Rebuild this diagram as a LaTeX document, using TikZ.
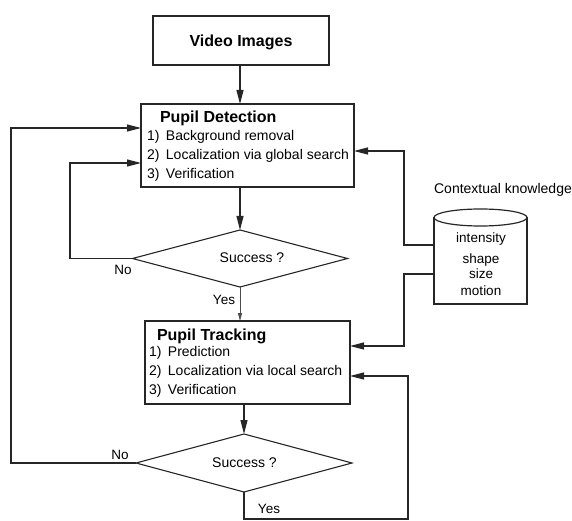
\documentclass[tikz,border=0pt]{standalone}
\usepackage{fontspec}
\setmainfont{Liberation Sans}
\usetikzlibrary{shapes.geometric,arrows.meta}
\begin{document}
\begin{tikzpicture}[x=1pt,y=-1pt,
  every node/.style={inner sep=0pt, outer sep=0pt},
  block/.style={draw=black!85, line width=1.2pt},
  decision/.style={diamond, draw=black!85, line width=1.1pt, inner sep=0pt},
  heading/.style={font=\fontsize{16}{19}\selectfont\bfseries, anchor=west},
  stepline/.style={font=\fontsize{14}{17}\selectfont, anchor=west, text height=10pt, text depth=3pt},
  tag/.style={font=\fontsize{13.5}{16}\selectfont},
  arr/.style={draw=black!85, line width=1.2pt, -{Triangle[length=14pt,width=7pt]}},
  thinarr/.style={draw=black!70, line width=0.8pt, -{Triangle[length=8pt,width=4pt]}},
]
\useasboundingbox (0,0) rectangle (572,521);

% --- input ---
\node[block, minimum width=176pt, minimum height=49pt] (vid) at (241,40.5) {};
\node[font=\fontsize{16}{19}\selectfont\bfseries] (vidtext) at (241,42) {Video Images};

% --- pupil detection ---
\node[block, minimum width=213pt, minimum height=83pt] (pd) at (247.5,145.5) {};
\node[heading] (pdtitle) at (160,118) {Pupil Detection};
\node[stepline] (pd1) at (147,137) {1)\hspace{6.5pt}Background removal};
\node[stepline] (pd2) at (147,156) {2)\hspace{6.5pt}Localization via global search};
\node[stepline] (pd3) at (147,175) {3)\hspace{6.5pt}Verification};

% --- first decision ---
\node[decision, minimum width=215pt, minimum height=57pt] (d1) at (240,258.5) {};
\node[stepline, anchor=center] (d1text) at (252,259) {Success ?};

% --- pupil tracking ---
\node[block, minimum width=205pt, minimum height=83pt] (pt) at (247.5,362.5) {};
\node[heading] (pttitle) at (157,336) {Pupil Tracking};
\node[stepline] (pt1) at (149,353) {1)\hspace{6.5pt}Prediction};
\node[stepline] (pt2) at (149,372) {2)\hspace{6.5pt}Localization via local search};
\node[stepline] (pt3) at (149,391) {3)\hspace{6.5pt}Verification};

% --- second decision ---
\node[decision, minimum width=216pt, minimum height=58pt] (d2) at (244,463) {};
\node[stepline, anchor=center] (d2text) at (244.5,464) {Success ?};

% --- knowledge base ---
\node[tag, font=\fontsize{14}{17}\selectfont] (kbtitle) at (503,190) {Contextual knowledge};
\node[minimum width=93pt, minimum height=95pt] (kb) at (480.5,256.5) {};
\draw[block] ([yshift=-8.5pt]kb.north west) -- (kb.south west) -- (kb.south east) -- ([yshift=-8.5pt]kb.north east);
\draw[block] ([yshift=-8.5pt]kb.north) ellipse [x radius=46.5pt, y radius=8.5pt];
\node[tag, align=center] (kbtext) at (481,264.5) {intensity\\[5pt]shape\\[-1pt]size\\[1pt]motion};

% --- routing points ---
\coordinate (loopA) at (70,163);
\coordinate (loopB) at (11,128);
\coordinate (c1) at (404,151);
\coordinate (c2) at (404,245);
\coordinate (c3) at (404,274);
\coordinate (c4) at (404,346);
\coordinate (c5) at (408,519);
\coordinate (c6) at (408,376);

% --- connectors ---
\draw[arr] (vid.south -| d1.north) -- (pd.north -| d1.north);
\draw[arr] (pd.south -| d1.north) -- (d1.north);
\draw[thinarr] (d1.south) -- (pt.north -| d1.south);
\draw[arr] (pt.south -| d2.north) -- (d2.north);
\draw[arr] (d1.west) -| (loopA) -- (loopA -| pd.west);
\draw[arr] (d2.west) -| (loopB) -- (loopB -| pd.west);
\draw[arr] (c2 -| kb.west) -- (c2) -- (c1) -- (c1 -| pd.east);
\draw[arr] (c3 -| kb.west) -- (c3) -- (c4) -- (c4 -| pt.east);
\draw[arr] (d2.south) |- (c5) -- (c6) -- (c6 -| pt.east);

% --- branch labels ---
\node[tag] (no1) at (123,270) {No};
\node[tag] (yes1) at (224,300) {Yes};
\node[tag] (no2) at (120,455) {No};
\node[tag] (yes2) at (269,509) {Yes};
\end{tikzpicture}
\end{document}
